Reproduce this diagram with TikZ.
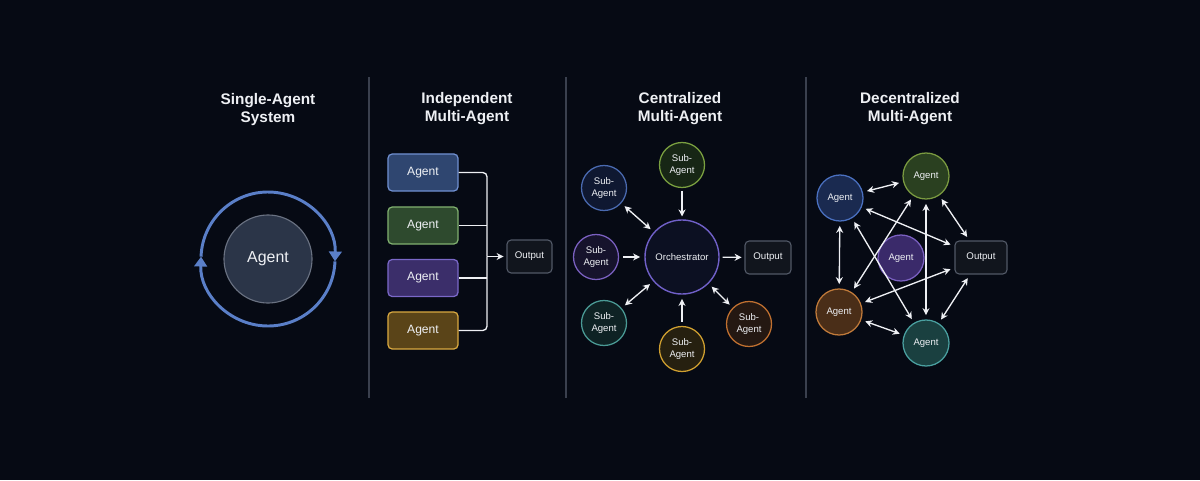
\documentclass[tikz,border=0pt]{standalone}
\usepackage{fontspec}
\setmainfont{Liberation Sans}
\usetikzlibrary{arrows.meta,calc}
\definecolor{bg}{HTML}{060A14}
\definecolor{divc}{HTML}{3A404E}
\definecolor{txt}{HTML}{EEF0F4}
\definecolor{loopc}{HTML}{5A7FC8}
\definecolor{agfill}{HTML}{2B3548}
\definecolor{agdraw}{HTML}{6A7282}
\definecolor{outfill}{HTML}{11151D}
\definecolor{outdraw}{HTML}{515866}
% panel 2 boxes
\definecolor{bBf}{HTML}{2F4670}\definecolor{bBd}{HTML}{6F8FD0}
\definecolor{bGf}{HTML}{2E4A2E}\definecolor{bGd}{HTML}{80B070}
\definecolor{bPf}{HTML}{3B2E6A}\definecolor{bPd}{HTML}{7A68C8}
\definecolor{bYf}{HTML}{5A4418}\definecolor{bYd}{HTML}{D8A840}
% panel 3 subs
\definecolor{sBf}{HTML}{0F1831}\definecolor{sBd}{HTML}{4A6AB0}
\definecolor{sGf}{HTML}{172615}\definecolor{sGd}{HTML}{7AA040}
\definecolor{sPf}{HTML}{16132C}\definecolor{sPd}{HTML}{7A60C0}
\definecolor{sTf}{HTML}{0E2224}\definecolor{sTd}{HTML}{4A9A95}
\definecolor{sYf}{HTML}{262010}\definecolor{sYd}{HTML}{D0A030}
\definecolor{sOf}{HTML}{241812}\definecolor{sOd}{HTML}{C07030}
\definecolor{orf}{HTML}{0C1022}\definecolor{ord}{HTML}{7060C8}
% panel 4
\definecolor{dBf}{HTML}{1A2A50}\definecolor{dBd}{HTML}{4A70C0}
\definecolor{dGf}{HTML}{2A4020}\definecolor{dGd}{HTML}{7A9A40}
\definecolor{dPf}{HTML}{3A2A6A}\definecolor{dPd}{HTML}{7A60C0}
\definecolor{dOf}{HTML}{4A2E18}\definecolor{dOd}{HTML}{C07A3A}
\definecolor{dTf}{HTML}{1A4040}\definecolor{dTd}{HTML}{4AA0A0}
\begin{document}
\begin{tikzpicture}[x=0.025cm,y=0.025cm,
  title/.style={text=txt,font=\bfseries\fontsize{10.9}{12.8}\selectfont,align=center},
  agbox/.style={draw,rounded corners=3pt,line width=0.9pt,minimum width=1.75cm,minimum height=0.925cm,text=txt,font=\fontsize{8.6}{10}\selectfont},
  outbox/.style={draw=outdraw,fill=outfill,rounded corners=3pt,line width=0.8pt,minimum height=0.825cm,text=txt,font=\fontsize{6.9}{8}\selectfont},
  sub/.style={circle,line width=0.9pt,minimum size=1.125cm,inner sep=0pt,text=txt,align=center,font=\fontsize{6.8}{9}\selectfont},
  dag/.style={circle,line width=0.9pt,minimum size=1.15cm,inner sep=0pt,text=txt,font=\fontsize{6.8}{9}\selectfont},
  conn/.style={draw=txt,line width=0.95pt},
  arr/.style={conn,-{Stealth[length=5pt,width=5pt]}},
  darr/.style={conn,{Stealth[length=5pt,width=5pt]}-{Stealth[length=5pt,width=5pt]}},
  divider/.style={draw=divc,line width=0.9pt}
]
\fill[bg] (0,0) rectangle (1200,-480);
\useasboundingbox (0,0) rectangle (1200,-480);

% dividers
\coordinate (d1t) at (369,-77); \coordinate (d1b) at (369,-398);
\coordinate (d2t) at (566,-77); \coordinate (d2b) at (566,-398);
\coordinate (d3t) at (806,-77); \coordinate (d3b) at (806,-398);
\draw[divider] (d1t) -- (d1b);
\draw[divider] (d2t) -- (d2b);
\draw[divider] (d3t) -- (d3b);

% titles
\node[title] (t1) at (268,-110) {Single-Agent\\System};
\node[title] (t2) at (467,-109) {Independent\\Multi-Agent};
\node[title] (t3) at (680,-109) {Centralized\\Multi-Agent};
\node[title] (t4) at (910,-109) {Decentralized\\Multi-Agent};

% panel 1
\coordinate (lc) at (268,-259);
\draw[loopc,line width=2.1pt,-{Triangle[length=7pt,width=9pt]}] ($(lc)+(178:67)$) arc[start angle=178,end angle=-2,radius=67];
\draw[loopc,line width=2.1pt,-{Triangle[length=7pt,width=9pt]}] ($(lc)+(-2:67)$) arc[start angle=-2,end angle=-182,radius=67];
\node[circle,draw=agdraw,fill=agfill,line width=0.8pt,minimum size=2.2cm,text=txt,font=\fontsize{11.3}{13}\selectfont] (ag0) at (lc) {Agent};

% panel 2
\node[agbox,draw=bBd,fill=bBf] (b1) at (423,-172.5) {Agent};
\node[agbox,draw=bGd,fill=bGf] (b2) at (423,-225.5) {Agent};
\node[agbox,draw=bPd,fill=bPf] (b3) at (423,-278) {Agent};
\node[agbox,draw=bYd,fill=bYf] (b4) at (423,-330.5) {Agent};
\node[outbox,minimum width=1.125cm] (o2) at (529.5,-256.5) {Output};
\coordinate (jb) at (487,-256.5);
\draw[conn,rounded corners=3pt] (b1.east) -| (jb);
\draw[conn,rounded corners=3pt] (b4.east) -| (jb);
\draw[conn] (b2.east) -- (b2.east -| jb);
\draw[conn] (b3.east) -- (b3.east -| jb);
\draw[arr] (jb) -- ([xshift=-2pt]o2.west);

% panel 3
\node[circle,draw=ord,fill=orf,line width=1pt,minimum size=1.85cm,inner sep=0pt,text=txt,font=\fontsize{6.8}{9}\selectfont] (orc) at (682,-257) {Orchestrator};
\node[sub,draw=sGd,fill=sGf] (s1) at (682,-165) {Sub-\\Agent};
\node[sub,draw=sBd,fill=sBf] (s2) at (604,-188) {Sub-\\Agent};
\node[sub,draw=sPd,fill=sPf] (s3) at (596,-257) {Sub-\\Agent};
\node[sub,draw=sTd,fill=sTf] (s4) at (604,-323) {Sub-\\Agent};
\node[sub,draw=sYd,fill=sYf] (s5) at (682,-349) {Sub-\\Agent};
\node[sub,draw=sOd,fill=sOf] (s6) at (749,-324) {Sub-\\Agent};
\node[outbox,minimum width=1.15cm] (o3) at (768,-257.5) {Output};
\draw[arr,shorten <=2pt,shorten >=2pt] (s1) -- (orc);
\draw[darr,shorten <=3pt,shorten >=3pt] (s2) -- (orc);
\draw[arr,shorten <=3pt,shorten >=3pt] (s3) -- (orc);
\draw[darr,shorten <=3pt,shorten >=3pt] (s4) -- (orc);
\draw[arr,shorten <=3pt,shorten >=3pt] (s5) -- (orc);
\draw[darr,shorten <=3pt,shorten >=3pt] (s6) -- (orc);
\draw[arr,shorten <=2pt,shorten >=2pt] (orc) -- (o3);

% panel 4
\node[dag,draw=dBd,fill=dBf] (a1) at (840,-198) {Agent};
\node[dag,draw=dGd,fill=dGf] (a2) at (926,-176) {Agent};
\node[dag,draw=dPd,fill=dPf] (a3) at (901,-258) {Agent};
\node[dag,draw=dOd,fill=dOf] (a4) at (839,-312) {Agent};
\node[dag,draw=dTd,fill=dTf] (a5) at (926,-343) {Agent};
\node[outbox,minimum width=1.3cm] (o4) at (981,-257.5) {Output};
\begin{scope}[shorten <=3pt,shorten >=3pt]
\draw[darr] (a1) -- (a2);
\draw[darr] (a1) -- (a4);
\draw[darr] (a1) -- (o4);
\draw[darr] (a1) -- (a5);
\draw[darr] (a2) -- (a4);
\draw[darr] (a2) -- (a5);
\draw[darr] (a2) -- (o4);
\draw[darr] (a4) -- (o4);
\draw[darr] (a4) -- (a5);
\draw[darr] (a5) -- (o4);
\end{scope}
\end{tikzpicture}
\end{document}
